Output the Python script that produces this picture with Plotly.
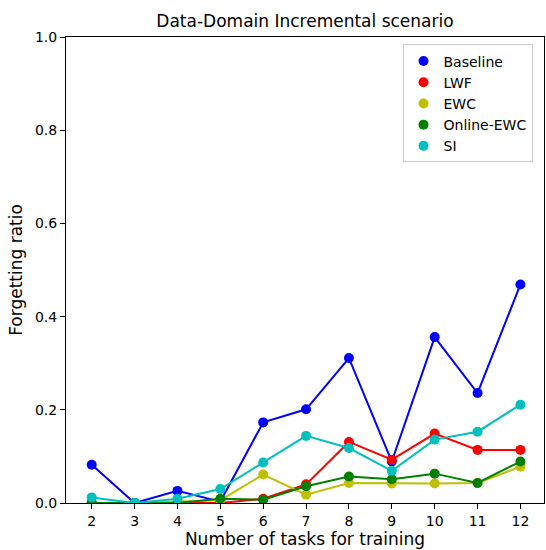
import plotly.graph_objects as go

tasks = [2, 3, 4, 5, 6, 7, 8, 9, 10, 11, 12]
baseline = [0.082, 0.0, 0.026, 0.003, 0.173, 0.201, 0.311, 0.089, 0.356, 0.236, 0.469]
lwf = [0.0, 0.0, 0.0, 0.0, 0.009, 0.040, 0.131, 0.093, 0.149, 0.114, 0.114]
ewc = [0.0, 0.0, 0.003, 0.006, 0.061, 0.018, 0.043, 0.042, 0.042, 0.043, 0.078]
online_ewc = [0.0, 0.0, 0.0, 0.009, 0.007, 0.036, 0.057, 0.051, 0.063, 0.043, 0.089]
si = [0.012, 0.0, 0.009, 0.030, 0.087, 0.144, 0.118, 0.069, 0.136, 0.153, 0.211]

series_names = ["Baseline", "LWF", "EWC", "Online-EWC", "SI"]
series_values = [baseline, lwf, ewc, online_ewc, si]
colors = ["#0000ff", "#ff0000", "#bfbf00", "#008000", "#00bfbf"]

FONT = "DejaVu Sans"

fig = go.Figure()
for name, vals, col in zip(series_names, series_values, colors):
    fig.add_trace(go.Scatter(
        x=tasks, y=vals, mode="lines+markers", name=name,
        line=dict(color=col, width=2),
        marker=dict(color=col, size=10),
        showlegend=False,
    ))
for name, vals, col in zip(series_names, series_values, colors):
    fig.add_trace(go.Scatter(
        x=[None], y=[None], mode="markers", name=name,
        marker=dict(color=col, size=10),
        showlegend=True,
    ))

axis_common = dict(
    showline=True, linecolor="black", linewidth=1, mirror=True,
    ticks="outside", ticklen=5, tickcolor="black", tickwidth=1,
    showgrid=False, zeroline=False,
    tickfont=dict(family=FONT, size=14, color="black"),
)

fig.update_layout(
    width=546, height=550,
    margin=dict(l=66, r=2, t=37, b=47),
    paper_bgcolor="white", plot_bgcolor="white",
    font=dict(family=FONT, color="black"),
    title=dict(text="Data-Domain Incremental scenario", x=(305) / 546, xanchor="center",
               y=1 - 21 / 550, yanchor="middle",
               font=dict(family=FONT, size=17, color="black")),
    xaxis=dict(range=[1.4, 12.55], tickmode="array", tickvals=tasks,
               ticktext=[str(t) for t in tasks],
               title=dict(text="Number of tasks for training", font=dict(family=FONT, size=17), standoff=5),
               **axis_common),
    yaxis=dict(range=[0, 1], tickmode="array", tickvals=[0, 0.2, 0.4, 0.6, 0.8, 1.0],
               ticktext=["0.0", "0.2", "0.4", "0.6", "0.8", "1.0"],
               title=dict(text="Forgetting ratio", font=dict(family=FONT, size=17), standoff=7),
               **axis_common),
    legend=dict(x=0.704, y=0.984, xanchor="left", yanchor="top",
                bordercolor="#cccccc", borderwidth=1, bgcolor="rgba(255,255,255,0.8)",
                font=dict(family=FONT, size=14, color="black")),
)

fig.write_html("out.html", config={"displayModeBar": False},
               post_script="document.body.style.margin='0';document.body.style.overflow='hidden';")
